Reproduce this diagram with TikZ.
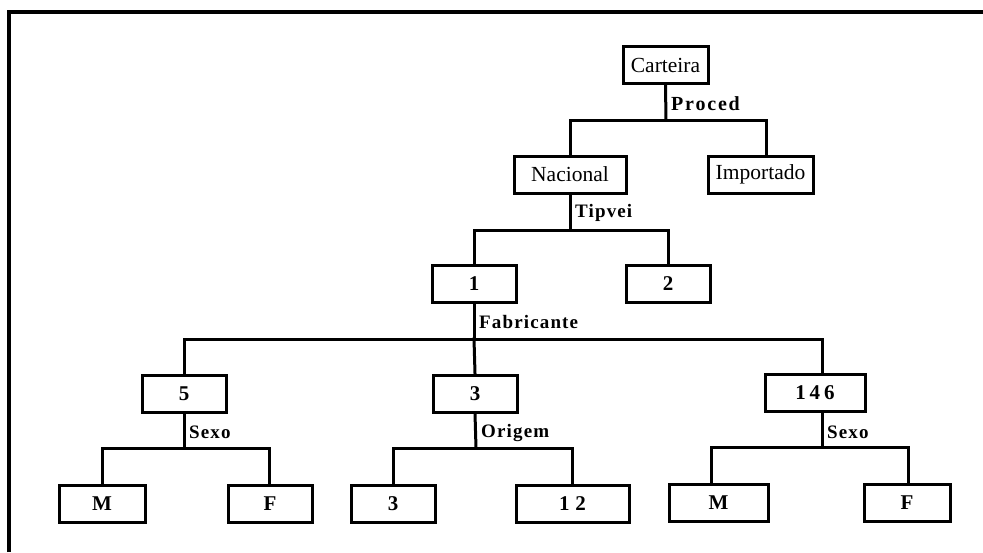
\documentclass[tikz,border=0pt]{standalone}
\usepackage{fontspec}
\setmainfont{Liberation Serif}
\newfontfamily\lblfont[LetterSpace=6]{Liberation Serif}
\newfontfamily\lblwide[LetterSpace=9]{Liberation Serif}
\usetikzlibrary{calc}
\tikzset{
  box/.style={draw, line width=3pt, minimum height=37pt, inner sep=0pt, font=\fontsize{21.5}{22}\selectfont},
  nbox/.style={box, font=\fontsize{21}{22}\selectfont\bfseries},
  lbl/.style={anchor=west, inner sep=0pt, font=\lblfont\fontsize{19}{20}\selectfont\bfseries},
  conn/.style={line width=3pt, line cap=rect},
  frame/.style={line width=4pt}
}
\begin{document}
\begin{tikzpicture}[x=1pt,y=-1pt]
\useasboundingbox (0,0) rectangle (983,552);
\coordinate (fa) at (9,552);
\coordinate (fb) at (9,12);
\coordinate (fc) at (983,12);
\draw[frame] (fa) -- (fb) -- (fc);

% nodes
\node[box, minimum width=85pt]  (cart) at (665.5,65) {Carteira};
\node[box, minimum width=112pt] (nac)  at (570,174.5) {Nacional};
\node[box, minimum width=105pt] (imp)  at (760.5,174.5) {Importado};
\node[nbox, minimum width=84pt] (n1)   at (474,283.5) {1};
\node[nbox, minimum width=84pt] (n2)   at (668,283.5) {2};
\node[nbox, minimum width=84pt] (n5)   at (184,393.5) {5};
\node[nbox, minimum width=84pt] (n3)   at (475,393.5) {3};
\node[nbox, minimum width=100pt] (n146) at (815,392.5) {1\hspace{4pt}4\hspace{4pt}6};
\node[nbox, minimum width=86pt] (m1)   at (102,503.5) {M};
\node[nbox, minimum width=84pt] (f1)   at (270,503.5) {F};
\node[nbox, minimum width=84pt] (o3)   at (393,503.5) {3};
\node[nbox, minimum width=113pt] (o12) at (572.5,503.5) {1\hspace{6pt}2};
\node[nbox, minimum width=99pt] (m2)   at (718.5,503) {M};
\node[nbox, minimum width=86pt] (f2)   at (907,503) {F};

% bar coordinates
\coordinate (b1) at (666,120);
\coordinate (b2) at (570,230);
\coordinate (b3) at (474,339);
\coordinate (b4) at (184,448);
\coordinate (b5) at (476,448);
\coordinate (b6) at (822,447);

% connectors
\draw[conn] (cart.south) -- (b1);
\draw[conn] (nac.north) |- (b1) -| ([xshift=5.5pt]imp.north);
\draw[conn] (nac.south) -- (b2);
\draw[conn] (n1.north) |- (b2) -| (n2.north);
\draw[conn] (n1.south) -- (b3);
\draw[conn] (n5.north) |- (b3) -| ([xshift=7pt]n146.north);
\draw[conn] (b3) -- (n3.north);
\draw[conn] (n5.south) -- (b4);
\draw[conn] (m1.north) |- (b4) -| ([xshift=-1pt]f1.north);
\draw[conn] (n3.south) -- (b5);
\draw[conn] (o3.north) |- (b5) -| (o12.north);
\draw[conn] ([xshift=7pt]n146.south) -- (b6);
\draw[conn] ([xshift=-7.5pt]m2.north) |- (b6) -| ([xshift=1pt]f2.north);

% labels
\node[lbl, font=\lblwide\fontsize{20}{21}\selectfont\bfseries] (lp) at (671,104) {Proced};
\node[lbl] (lt) at (575,213) {Tipvei};
\node[lbl] (lf) at (479,322) {Fabricante};
\node[lbl] (ls1) at (189,432) {Sexo};
\node[lbl] (lo) at (481,433) {Origem};
\node[lbl] (ls2) at (827,432) {Sexo};
\end{tikzpicture}
\end{document}
